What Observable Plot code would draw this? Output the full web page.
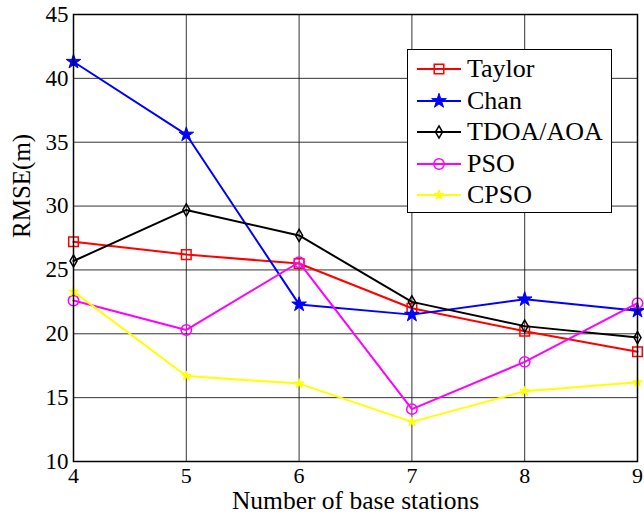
<!DOCTYPE html>
<html>
<head>
<meta charset="utf-8">
<script src="https://cdn.jsdelivr.net/npm/d3@7"></script>
<script src="https://cdn.jsdelivr.net/npm/@observablehq/plot@0.6"></script>
<style>
  html, body { margin: 0; padding: 0; background: #fff; }
  #wrap { position: relative; width: 644px; height: 521px; font-family: "Liberation Serif", "DejaVu Serif", serif; }
  #wrap svg text { font-family: "Liberation Serif", "DejaVu Serif", serif; font-variant: normal; }
  #legend { position: absolute; left: 407px; top: 49px; width: 205px; height: 164px; border: 1.5px solid #000; background: #fff; box-sizing: border-box; }
  .row { position: absolute; left: 0; height: 30px; display: flex; align-items: center; }
  .row span { font-size: 26px; color: #000; margin-left: 5px; line-height: 1; font-family: "Liberation Serif", "DejaVu Serif", serif; }
</style>
</head>
<body>
<div id="wrap"></div>
<script>
const xs = [4, 5, 6, 7, 8, 9];
const yTicks = [10, 15, 20, 25, 30, 35, 40, 45];
const seriesNames = ["Taylor", "Chan", "TDOA/AOA", "PSO", "CPSO"];
const seriesColors = ["#ff0000", "#0000ff", "#000000", "#ff00ff", "#ffff00"];
const taylor = [27.2, 26.2, 25.5, 22.0, 20.2, 18.6];
const chan = [41.3, 35.6, 22.3, 21.5, 22.7, 21.8];
const tdoa = [25.7, 29.7, 27.7, 22.5, 20.6, 19.7];
const pso = [22.6, 20.3, 25.6, 14.1, 17.8, 22.4];
const cpso = [23.3, 16.7, 16.1, 13.1, 15.5, 16.2];

const serif = "Liberation Serif, DejaVu Serif, serif";
const seriesValues = [taylor, chan, tdoa, pso, cpso];
const markers = [
  {symbol: "square", r: 5.4, fill: "none", strokeWidth: 1.5},
  {symbol: "star", r: 4.6, fill: "currentColor", strokeWidth: 1},
  {symbol: "diamond", r: 3.7, fill: "none", strokeWidth: 1.5},
  {symbol: "circle", r: 5.2, fill: "none", strokeWidth: 1.5},
  {symbol: "star", r: 3.0, fill: "currentColor", strokeWidth: 1}
];

const marks = [
  Plot.gridX(xs, {stroke: "#111", strokeOpacity: 0.85, strokeWidth: 1}),
  Plot.gridY(yTicks, {stroke: "#111", strokeOpacity: 0.85, strokeWidth: 1}),
  Plot.axisX({ticks: xs, tickSize: 0, tickPadding: 6, tickFormat: d => String(d), label: null, fontSize: 22, fontFamily: serif}),
  Plot.axisY({ticks: yTicks, tickSize: 0, tickPadding: 5, label: null, fontSize: 23, fontFamily: serif}),
  Plot.text(["Number of base stations"], {frameAnchor: "bottom", dy: 47.5, fontSize: 25.5, fill: "#000", fontFamily: serif}),
  Plot.text(["RMSE(m)"], {frameAnchor: "left", dx: -52, rotate: -90, fontSize: 25, fill: "#000", fontFamily: serif})
];

seriesNames.forEach((name, i) => {
  const data = xs.map((x, j) => ({x, y: seriesValues[i][j], s: name}));
  const col = seriesColors[i];
  const m = markers[i];
  marks.push(Plot.line(data, {x: "x", y: "y", stroke: col, strokeWidth: 2}));
  marks.push(Plot.dot(data, {x: "x", y: "y", symbol: () => m.symbol, r: m.r,
    stroke: col, strokeWidth: m.strokeWidth, fill: m.fill === "none" ? "none" : col}));
});
marks.push(Plot.frame({stroke: "#000", strokeWidth: 1.5}));

const chart = Plot.plot({
  width: 644,
  height: 521,
  marginLeft: 73,
  marginRight: 7,
  marginTop: 14,
  marginBottom: 60,
  style: {fontFamily: serif, color: "#000", background: "#fff", overflow: "visible"},
  x: {domain: [4, 9]},
  y: {domain: [10, 45]},
  symbol: {type: "identity"},
  marks
});

const wrap = document.getElementById("wrap");
wrap.appendChild(chart);

// legend
const legend = document.createElement("div");
legend.id = "legend";
seriesNames.forEach((name, i) => {
  const row = document.createElement("div");
  row.className = "row";
  row.style.top = (4 + i * 31.5) + "px";
  const m = markers[i];
  const svg = d3.create("svg").attr("width", 54).attr("height", 30);
  svg.append("line").attr("x1", 9).attr("x2", 53).attr("y1", 15).attr("y2", 15)
    .attr("stroke", seriesColors[i]).attr("stroke-width", 2);
  const symMap = {square: d3.symbolSquare, star: d3.symbolStar, diamond: d3.symbolDiamond, circle: d3.symbolCircle};
  svg.append("path").attr("transform", "translate(31,15)")
    .attr("d", d3.symbol(symMap[m.symbol], Math.PI * m.r * m.r)())
    .attr("fill", m.fill === "none" ? "none" : seriesColors[i])
    .attr("stroke", seriesColors[i]).attr("stroke-width", m.strokeWidth);
  row.appendChild(svg.node());
  const t = document.createElement("span");
  t.textContent = name;
  row.appendChild(t);
  legend.appendChild(row);
});
wrap.appendChild(legend);
</script>
</body>
</html>
